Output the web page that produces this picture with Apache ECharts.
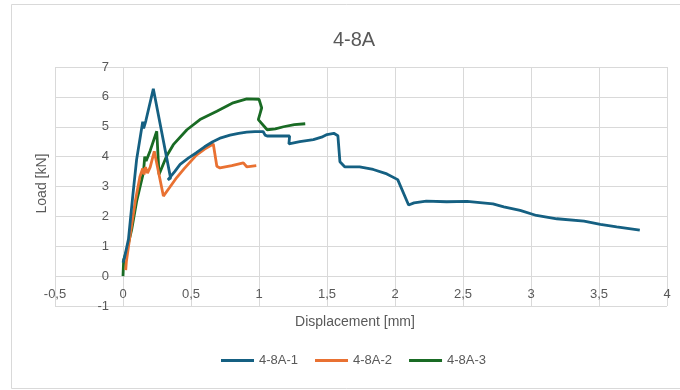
<!DOCTYPE html>
<html>
<head>
<meta charset="utf-8">
<script src="https://cdn.jsdelivr.net/npm/echarts@6/dist/echarts.min.js"></script>
<style>
  html, body { margin: 0; padding: 0; background: #ffffff; }
  #chart { width: 680px; height: 390px; }
</style>
</head>
<body>
<div id="chart"></div>
<script>
// Load–displacement curves for specimens 4-8A-1, 4-8A-2 and 4-8A-3
const seriesNames = ['4-8A-1', '4-8A-2', '4-8A-3'];
const seriesColors = ['#156082', '#E97132', '#196B24'];

// Displacement [mm] and load [kN] for each specimen
const disp1 = [0, 0.01, 0.04, 0.07, 0.1, 0.145, 0.152, 0.16, 0.168, 0.223, 0.35, 0.33, 0.34, 0.38, 0.42, 0.48, 0.54, 0.6, 0.66, 0.72, 0.787, 0.85, 0.91, 0.97, 1.03, 1.045, 1.06, 1.15, 1.225, 1.22, 1.3, 1.4, 1.46, 1.5, 1.55, 1.58, 1.595, 1.63, 1.74, 1.84, 1.94, 2.02, 2.1, 2.14, 2.23, 2.38, 2.53, 2.72, 2.8, 2.92, 3.04, 3.19, 3.39, 3.51, 3.63, 3.8];
const load1 = [0.45, 0.6, 1.23, 2.6, 3.9, 5.17, 4.95, 5.0, 5.2, 6.27, 3.28, 3.22, 3.28, 3.5, 3.74, 3.95, 4.13, 4.33, 4.5, 4.63, 4.72, 4.78, 4.82, 4.84, 4.84, 4.72, 4.69, 4.69, 4.69, 4.43, 4.5, 4.57, 4.65, 4.74, 4.78, 4.7, 3.83, 3.66, 3.66, 3.57, 3.42, 3.23, 2.38, 2.45, 2.51, 2.49, 2.5, 2.42, 2.32, 2.2, 2.03, 1.92, 1.84, 1.73, 1.65, 1.54];

const disp2 = [0.02, 0.025, 0.05, 0.09, 0.125, 0.145, 0.155, 0.165, 0.18, 0.2, 0.23, 0.297, 0.34, 0.395, 0.45, 0.54, 0.6, 0.664, 0.676, 0.69, 0.713, 0.8, 0.885, 0.91, 0.98];
const load2 = [0.2, 0.5, 1.3, 2.5, 3.34, 3.6, 3.4, 3.65, 3.45, 3.65, 4.18, 2.68, 2.95, 3.3, 3.6, 4.05, 4.25, 4.42, 4.46, 3.68, 3.62, 3.7, 3.79, 3.66, 3.7];

const disp3 = [0, 0.005, 0.03, 0.064, 0.1, 0.15, 0.16, 0.17, 0.2, 0.248, 0.265, 0.32, 0.37, 0.47, 0.566, 0.69, 0.81, 0.91, 1.0, 1.02, 0.995, 1.06, 1.12, 1.18, 1.26, 1.34];
const load3 = [0, 0.55, 0.9, 1.56, 2.5, 3.46, 4.0, 3.85, 4.2, 4.85, 3.4, 4.01, 4.4, 4.9, 5.24, 5.52, 5.8, 5.93, 5.92, 5.63, 5.24, 4.9, 4.93, 5.0, 5.07, 5.1];

// Tick values of both axes (labels sit on the axes crossing at 0)
const xTicks = [-0.5, 0, 0.5, 1, 1.5, 2, 2.5, 3, 3.5, 4];
const yTicks = [-1, 0, 1, 2, 3, 4, 5, 6, 7];

const dispSets = [disp1, disp2, disp3];
const loadSets = [load1, load2, load3];

const xMin = -0.5, xMax = 4, xStep = 0.5;
const yMin = -1, yMax = 7, yStep = 1;

const textColor = '#595959';
const gridColor = '#d9d9d9';
const fontFamily = '"Liberation Sans", Arial, sans-serif';

// Decimal comma formatting for tick labels
const commaFmt = v => String(Math.round(v * 100) / 100).replace('.', ',');

const chart = echarts.init(document.getElementById('chart'), null, { renderer: 'canvas' });

const frame = {
  id: 'frame',
  type: 'rect',
  shape: { x: 11.5, y: 4.5, width: 700, height: 384 },
  style: { fill: 'none', stroke: gridColor, lineWidth: 1 },
  silent: true,
  z: -10
};

chart.setOption({
  animation: false,
  backgroundColor: '#ffffff',
  textStyle: { fontFamily: fontFamily },
  graphic: [frame],
  title: {
    text: '4-8A',
    left: 349,
    textAlign: 'center',
    top: 25,
    textStyle: { color: textColor, fontSize: 20, fontWeight: 'normal', fontFamily: fontFamily }
  },
  legend: {
    data: seriesNames,
    bottom: 18,
    left: 216,
    icon: 'rect',
    itemWidth: 33,
    itemHeight: 3,
    itemGap: 17,
    textStyle: { color: textColor, fontSize: 13, fontFamily: fontFamily }
  },
  grid: { left: 55, right: 13, top: 67, bottom: 84, containLabel: false, outerBoundsMode: 'none' },
  xAxis: {
    type: 'value',
    min: xMin, max: xMax, interval: xStep,
    axisLine: { show: false },
    axisTick: { show: false },
    axisLabel: { show: false },
    splitLine: { show: true, lineStyle: { color: gridColor, width: 1 } }
  },
  yAxis: {
    type: 'value',
    min: yMin, max: yMax, interval: yStep,
    axisLine: { show: false },
    axisTick: { show: false },
    axisLabel: { show: false },
    splitLine: { show: true, lineStyle: { color: gridColor, width: 1 } }
  },
  series: seriesNames.map((name, i) => ({
    name: name,
    type: 'line',
    data: dispSets[i].map((d, k) => [d, loadSets[i][k]]),
    showSymbol: false,
    symbol: 'none',
    smooth: false,
    lineStyle: { color: seriesColors[i], width: 2.8 },
    itemStyle: { color: seriesColors[i] },
    z: 3 - i
  }))
});

// Tick labels and axis titles, placed through the grid's own coordinate conversion
const toPx = (x, y) => chart.convertToPixel({ gridIndex: 0 }, [x, y]);
const labelStyle = { fill: textColor, fontSize: 13, fontFamily: fontFamily };
const extra = [frame];

xTicks.forEach((v, i) => {
  const p = toPx(v, 0);
  extra.push({
    id: 'xt' + i, type: 'text', silent: true, z: 5,
    x: p[0], y: p[1] + 12,
    style: Object.assign({ text: commaFmt(v), align: 'center', verticalAlign: 'top' }, labelStyle)
  });
});
yTicks.forEach((v, i) => {
  const p = toPx(0, v);
  extra.push({
    id: 'yt' + i, type: 'text', silent: true, z: 5,
    x: p[0] - 14, y: p[1],
    style: Object.assign({ text: commaFmt(v), align: 'right', verticalAlign: 'middle' }, labelStyle)
  });
});

const bottomLeft = toPx(xMin, yMin);
const topRight = toPx(xMax, yMax);
extra.push({
  id: 'xname', type: 'text', silent: true,
  x: (bottomLeft[0] + topRight[0]) / 2 - 6, y: bottomLeft[1] + 16,
  style: { text: 'Displacement [mm]', align: 'center', verticalAlign: 'middle', fill: textColor, fontSize: 14, fontFamily: fontFamily }
});
extra.push({
  id: 'yname', type: 'text', silent: true,
  x: 42, y: (bottomLeft[1] + topRight[1]) / 2 - 3, rotation: Math.PI / 2,
  style: { text: 'Load [kN]', align: 'center', verticalAlign: 'middle', fill: textColor, fontSize: 14, fontFamily: fontFamily }
});

chart.setOption({ graphic: extra });
</script>
</body>
</html>
